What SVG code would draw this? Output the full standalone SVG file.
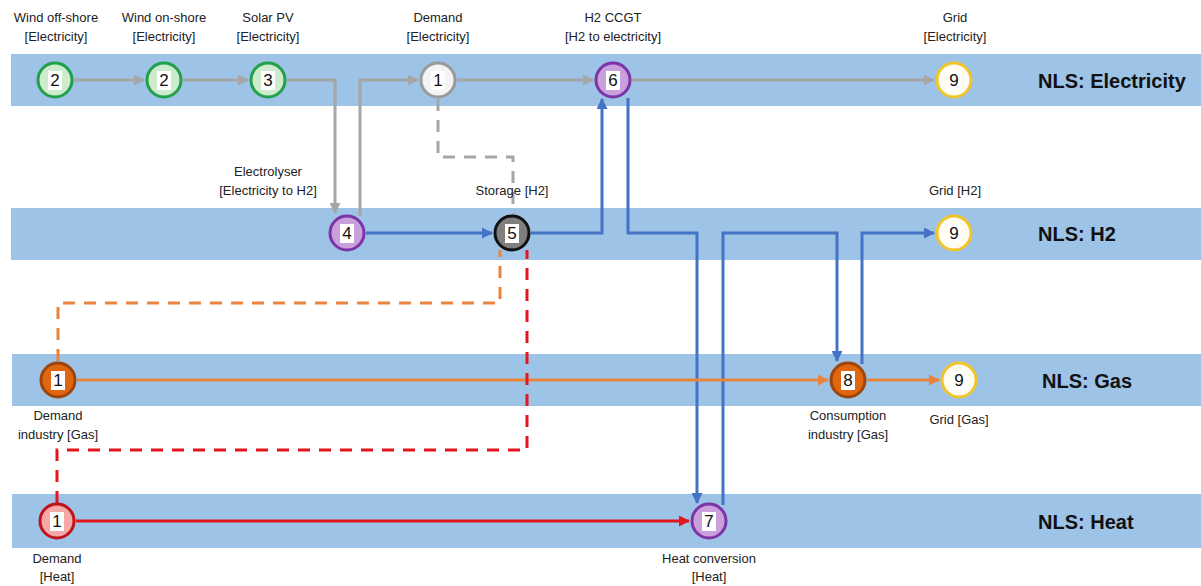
<svg xmlns="http://www.w3.org/2000/svg" width="1201" height="586" viewBox="0 0 1201 586">
<style>
.band{fill:#9DC3E6}
.lbl{font-family:"Liberation Sans",Arial,sans-serif;font-size:13px;fill:#222;text-anchor:middle}
.nls{font-family:"Liberation Sans",Arial,sans-serif;font-size:20px;font-weight:bold;fill:#111}
.num{font-family:"Liberation Sans",Arial,sans-serif;font-size:17px;fill:#111;text-anchor:middle}
.sq{fill:#fff}
.c{fill:none;stroke-width:3;stroke-linejoin:miter}
.g{stroke:#A6A6A6}
.b{stroke:#4472C4}
.o{stroke:#E8843E}
.r{stroke:#E3161E}
.d{stroke-dasharray:12 9}
.green{fill:#CDEBCD;stroke:#21A04A;stroke-width:3}
.grey{fill:#F4F4F4;stroke:#9A9A9A;stroke-width:3}
.purple{fill:#C9A0DC;stroke:#7B35A8;stroke-width:3}
.yellow{fill:#FFFDF2;stroke:#F2C42C;stroke-width:3}
.dark{fill:#7F7F7F;stroke:#111;stroke-width:3}
.orange{fill:#E0660F;stroke:#9E450D;stroke-width:3}
.pink{fill:#F5A8A8;stroke:#C0141C;stroke-width:3}
</style>
<defs>
<marker id="ag" markerWidth="11" markerHeight="11" refX="10" refY="5.5" orient="auto" markerUnits="userSpaceOnUse"><path d="M0,0 L11,5.5 L0,11 z" fill="#A6A6A6"/></marker>
<marker id="ab" markerWidth="11" markerHeight="11" refX="10" refY="5.5" orient="auto" markerUnits="userSpaceOnUse"><path d="M0,0 L11,5.5 L0,11 z" fill="#4472C4"/></marker>
<marker id="ao" markerWidth="11" markerHeight="11" refX="10" refY="5.5" orient="auto" markerUnits="userSpaceOnUse"><path d="M0,0 L11,5.5 L0,11 z" fill="#E8843E"/></marker>
<marker id="ar" markerWidth="11" markerHeight="11" refX="10" refY="5.5" orient="auto" markerUnits="userSpaceOnUse"><path d="M0,0 L11,5.5 L0,11 z" fill="#E3161E"/></marker>
</defs>
<rect width="1201" height="586" fill="#fff"/>
<g id="bands">
<rect class="band" x="11" y="54" width="1190" height="52"/>
<rect class="band" x="11" y="208" width="1190" height="52"/>
<rect class="band" x="12" y="354" width="1189" height="52"/>
<rect class="band" x="12" y="494" width="1189" height="54"/>
<text class="nls" x="1038" y="88">NLS: Electricity</text>
<text class="nls" x="1038" y="241">NLS: H2</text>
<text class="nls" x="1042" y="388">NLS: Gas</text>
<text class="nls" x="1038" y="529">NLS: Heat</text>
</g>
<g id="connectors">
<path class="c g" d="M74,80 H144" marker-end="url(#ag)"/>
<path class="c g" d="M183,80 H248" marker-end="url(#ag)"/>
<path class="c g" d="M287,80 H335 V213" marker-end="url(#ag)"/>
<path class="c g" d="M360,216 V80 H418" marker-end="url(#ag)"/>
<path class="c g" d="M457,80 H593" marker-end="url(#ag)"/>
<path class="c g" d="M632,80 H934" marker-end="url(#ag)"/>
<path class="c g d" d="M438,99 V157 H513 V214"/>
<path class="c b" d="M366,233 H492" marker-end="url(#ab)"/>
<path class="c b" d="M531,233 H602 V99" marker-end="url(#ab)"/>
<path class="c b" d="M628,98 V233 H697 V503" marker-end="url(#ab)"/>
<path class="c b" d="M723,505 V233 H837 V361" marker-end="url(#ab)"/>
<path class="c b" d="M862,364 V233 H934" marker-end="url(#ab)"/>
<path class="c o" d="M77,380 H828" marker-end="url(#ao)"/>
<path class="c o" d="M867,380 H939" marker-end="url(#ao)"/>
<path class="c o d" d="M58,361 V303 H500 V250"/>
<path class="c r" d="M76,521 H689" marker-end="url(#ar)"/>
<path class="c r d" d="M57,503 V450 H527 V250"/>
</g>
<g id="n-wind-off">
<circle class="green" cx="55" cy="80" r="17"/><rect class="sq" x="48" y="71" width="14" height="19"/><text class="num" x="55" y="86">2</text>
<text class="lbl" x="56" y="22">Wind off-shore</text><text class="lbl" x="56" y="41">[Electricity]</text>
</g>
<g id="n-wind-on">
<circle class="green" cx="164" cy="80" r="17"/><rect class="sq" x="157" y="71" width="14" height="19"/><text class="num" x="164" y="86">2</text>
<text class="lbl" x="164" y="22">Wind on-shore</text><text class="lbl" x="164" y="41">[Electricity]</text>
</g>
<g id="n-solar">
<circle class="green" cx="268" cy="80" r="17"/><rect class="sq" x="261" y="71" width="14" height="19"/><text class="num" x="268" y="86">3</text>
<text class="lbl" x="268" y="22">Solar PV</text><text class="lbl" x="268" y="41">[Electricity]</text>
</g>
<g id="n-demand-el">
<circle class="grey" cx="438" cy="80" r="17"/><rect class="sq" x="431" y="71" width="14" height="19"/><text class="num" x="438" y="86">1</text>
<text class="lbl" x="438" y="22">Demand</text><text class="lbl" x="438" y="41">[Electricity]</text>
</g>
<g id="n-ccgt">
<circle class="purple" cx="613" cy="80" r="17"/><rect class="sq" x="606" y="71" width="14" height="19"/><text class="num" x="613" y="86">6</text>
<text class="lbl" x="613" y="22">H2 CCGT</text><text class="lbl" x="613" y="41">[H2 to electricity]</text>
</g>
<g id="n-grid-el">
<circle class="yellow" cx="954" cy="80" r="17"/><rect class="sq" x="947" y="71" width="14" height="19"/><text class="num" x="954" y="86">9</text>
<text class="lbl" x="955" y="22">Grid</text><text class="lbl" x="955" y="41">[Electricity]</text>
</g>
<g id="n-electrolyser">
<circle class="purple" cx="347" cy="233" r="17"/><rect class="sq" x="340" y="224" width="14" height="19"/><text class="num" x="347" y="239">4</text>
<text class="lbl" x="268" y="176">Electrolyser</text><text class="lbl" x="268" y="195">[Electricity to H2]</text>
</g>
<g id="n-storage">
<circle class="dark" cx="512" cy="233" r="17"/><rect class="sq" x="505" y="224" width="14" height="19"/><text class="num" x="512" y="239">5</text>
<text class="lbl" x="512" y="195">Storage [H2]</text>
</g>
<g id="n-grid-h2">
<circle class="yellow" cx="954" cy="233" r="17"/><rect class="sq" x="947" y="224" width="14" height="19"/><text class="num" x="954" y="239">9</text>
<text class="lbl" x="955" y="195">Grid [H2]</text>
</g>
<g id="n-demand-gas">
<circle class="orange" cx="58" cy="380" r="17"/><rect class="sq" x="51" y="371" width="14" height="19"/><text class="num" x="58" y="386">1</text>
<text class="lbl" x="58" y="420">Demand</text><text class="lbl" x="58" y="439">industry [Gas]</text>
</g>
<g id="n-consumption">
<circle class="orange" cx="848" cy="380" r="17"/><rect class="sq" x="841" y="371" width="14" height="19"/><text class="num" x="848" y="386">8</text>
<text class="lbl" x="848" y="420">Consumption</text><text class="lbl" x="848" y="439">industry [Gas]</text>
</g>
<g id="n-grid-gas">
<circle class="yellow" cx="959" cy="380" r="17"/><rect class="sq" x="952" y="371" width="14" height="19"/><text class="num" x="959" y="386">9</text>
<text class="lbl" x="959" y="424">Grid [Gas]</text>
</g>
<g id="n-demand-heat">
<circle class="pink" cx="57" cy="521" r="17"/><rect class="sq" x="50" y="512" width="14" height="19"/><text class="num" x="57" y="527">1</text>
<text class="lbl" x="57" y="563">Demand</text><text class="lbl" x="57" y="581">[Heat]</text>
</g>
<g id="n-heat-conv">
<circle class="purple" cx="709" cy="521" r="17"/><rect class="sq" x="702" y="512" width="14" height="19"/><text class="num" x="709" y="527">7</text>
<text class="lbl" x="709" y="563">Heat conversion</text><text class="lbl" x="709" y="581">[Heat]</text>
</g>
</svg>
